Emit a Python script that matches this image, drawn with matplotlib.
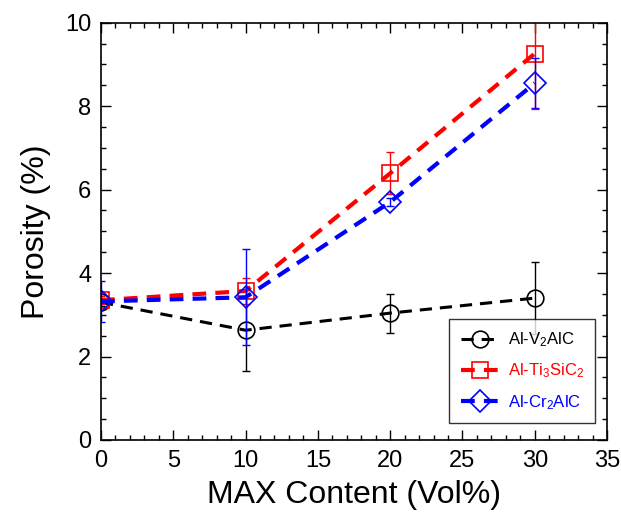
import matplotlib
matplotlib.use('Agg')
import matplotlib.pyplot as plt
from matplotlib.ticker import MultipleLocator

plt.rcParams['font.family'] = ['Liberation Sans', 'DejaVu Sans']
plt.rcParams['mathtext.fontset'] = 'custom'
plt.rcParams['mathtext.rm'] = 'Liberation Sans'
plt.rcParams['mathtext.it'] = 'Liberation Sans'

# MAX phase content (vol%)
content = [0, 10, 20, 30]

# porosity (%) and error bars for each composite
v2alc = [3.30, 2.63, 3.04, 3.40]
v2alc_err = [0.10, 0.97, 0.47, 0.86]

ti3sic2 = [3.35, 3.57, 6.39, 9.26]
ti3sic2_err = [0.10, 0.30, 0.50, 1.33]

cr2alc = [3.32, 3.42, 5.70, 8.55]
cr2alc_err = [0.50, 1.15, 0.10, 0.60]

labels = ['Al-V$_2$AlC', 'Al-Ti$_3$SiC$_2$', 'Al-Cr$_2$AlC']

fig = plt.figure(figsize=(6.21, 5.21), dpi=100)
ax = fig.add_axes([0.1626, 0.1555, 0.815, 0.801])

series = [
    (v2alc, v2alc_err, 'black', 'o', 2.2, 12, (0, (4.0, 2.6))),
    (ti3sic2, ti3sic2_err, 'red', 's', 3.0, 12, (0, (3.3, 2.2))),
    (cr2alc, cr2alc_err, 'blue', 'D', 3.0, 11, (0, (3.3, 2.2))),
]
for (vals, errs, col, mk, lw, ms, dash), lab in zip(series, labels):
    ax.errorbar(content, vals, yerr=errs, fmt='none', ecolor=col,
                elinewidth=1.0, capsize=3, capthick=1.0)
    ax.plot(content, vals, color=col, ls=dash, lw=lw, marker=mk, ms=ms,
            mfc='none', mec=col, mew=1.2, label=lab)

ax.set_xlim(0, 35)
ax.set_ylim(0, 10)
ax.xaxis.set_major_locator(MultipleLocator(5))
ax.xaxis.set_minor_locator(MultipleLocator(1))
ax.yaxis.set_major_locator(MultipleLocator(2))
ax.yaxis.set_minor_locator(MultipleLocator(0.5))
ax.tick_params(which='both', direction='in', top=True, right=True, width=1)
ax.tick_params(which='major', length=7, labelsize=17, pad=7)
ax.tick_params(which='minor', length=3.5)
for sp in ax.spines.values():
    sp.set_linewidth(1.2)

ax.set_xlabel('MAX Content (Vol%)', fontsize=23, labelpad=6)
ax.set_ylabel('Porosity (%)', fontsize=23, labelpad=10)

leg = ax.legend(loc='lower right', bbox_to_anchor=(0.977, 0.04), fontsize=12,
                frameon=True, fancybox=False, edgecolor='black',
                handlelength=2.3, handletextpad=0.5, borderpad=0.7,
                labelspacing=0.75, borderaxespad=0)
leg.get_frame().set_linewidth(1.0)
for txt, s in zip(leg.get_texts(), series):
    txt.set_color(s[2])

fig.savefig('out.png', dpi=100)
